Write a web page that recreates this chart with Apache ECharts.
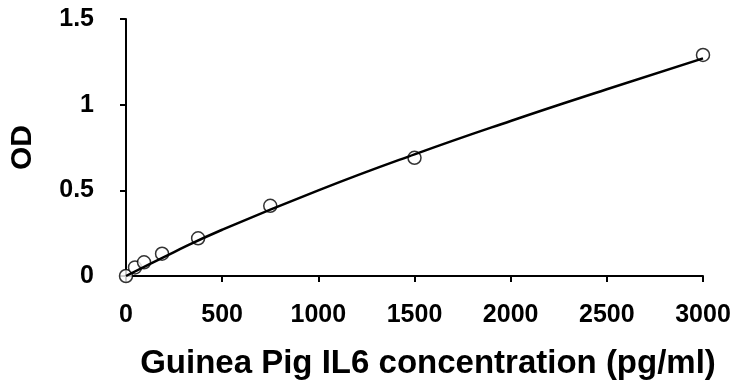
<!DOCTYPE html>
<html>
<head>
<meta charset="utf-8">
<script src="https://cdn.jsdelivr.net/npm/echarts@6/dist/echarts.min.js"></script>
<style>
  html, body { margin: 0; padding: 0; background: #fff; }
  #chart { width: 738px; height: 390px; }
</style>
</head>
<body>
<div id="chart"></div>
<script>
// standard points (pg/ml, OD)
var concValues = [0, 46.875, 93.75, 187.5, 375, 750, 1500, 3000];
var odValues = [0, 0.05, 0.08, 0.13, 0.22, 0.41, 0.69, 1.29];
// fitted curve
var fitConc = [0, 250, 500, 1000, 1500, 2000, 2500, 3000];
var fitOd = [0, 0.14, 0.27, 0.50, 0.71, 0.905, 1.09, 1.27];
var xTicks = [0, 500, 1000, 1500, 2000, 2500, 3000];
var yTicks = [0, 0.5, 1, 1.5];

var fontFam = '"Liberation Sans", Arial, sans-serif';
var myChart = echarts.init(document.getElementById('chart'));

var points = concValues.map(function(c, i) { return [c, odValues[i]]; });
var fitLine = fitConc.map(function(c, i) { return [c, fitOd[i]]; });

var option = {
  animation: false,
  grid: {
    left: 125,
    right: 35,
    top: 19,
    bottom: 114
  },
  xAxis: {
    type: 'value',
    min: xTicks[0],
    max: xTicks[xTicks.length - 1],
    interval: 500,
    name: 'Guinea Pig IL6 concentration (pg/ml)',
    nameLocation: 'middle',
    nameGap: 71,
    nameTextStyle: {
      color: '#000',
      fontSize: 33,
      fontWeight: 'bold',
      fontFamily: fontFam,
      padding: [0, 0, 0, 27]
    },
    axisLine: { show: true, lineStyle: { color: '#000', width: 2 } },
    axisTick: { show: true, inside: false, length: 6, lineStyle: { color: '#000', width: 2 } },
    axisLabel: {
      color: '#000',
      fontSize: 25,
      fontWeight: 'bold',
      fontFamily: fontFam,
      margin: 27,
      formatter: function(v) { return String(v); }
    },
    splitLine: { show: false }
  },
  yAxis: {
    type: 'value',
    min: yTicks[0],
    max: yTicks[yTicks.length - 1],
    interval: 0.5,
    name: 'OD',
    nameLocation: 'middle',
    nameGap: 88,
    nameTextStyle: {
      color: '#000',
      fontSize: 30,
      fontWeight: 'bold',
      fontFamily: fontFam
    },
    axisLine: { show: true, lineStyle: { color: '#000', width: 2 } },
    axisTick: { show: true, inside: false, length: 6, lineStyle: { color: '#000', width: 2 } },
    axisLabel: {
      color: '#000',
      fontSize: 25,
      fontWeight: 'bold',
      fontFamily: fontFam,
      margin: 32
    },
    splitLine: { show: false }
  },
  series: [
    {
      type: 'scatter',
      data: points,
      symbol: 'circle',
      symbolSize: 13,
      itemStyle: { color: '#fff', borderColor: '#000', borderWidth: 1.5 },
      z: 2
    },
    {
      type: 'line',
      data: fitLine,
      smooth: true,
      showSymbol: false,
      lineStyle: { color: '#000', width: 2.5 },
      z: 3
    }
  ]
};

myChart.setOption(option);
</script>
</body>
</html>
